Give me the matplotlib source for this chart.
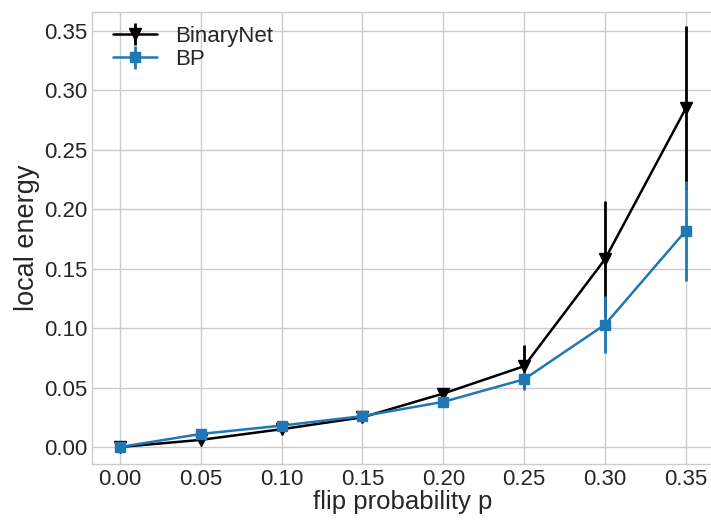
import matplotlib
matplotlib.use("Agg")
import matplotlib.pyplot as plt
import numpy as np

p = [0.00, 0.05, 0.10, 0.15, 0.20, 0.25, 0.30, 0.35]
binarynet = [0.0, 0.006, 0.015, 0.025, 0.045, 0.068, 0.158, 0.285]
binarynet_err = [0.0, 0.001, 0.002, 0.002, 0.004, 0.018, 0.049, 0.069]
bp = [0.0, 0.011, 0.018, 0.026, 0.038, 0.057, 0.103, 0.182]
bp_err = [0.0, 0.001, 0.001, 0.002, 0.003, 0.009, 0.024, 0.042]

plt.style.use("seaborn-v0_8-whitegrid")
plt.rcParams["font.family"] = ["Liberation Sans", "DejaVu Sans"]

fig = plt.figure(figsize=(7.11, 5.23), dpi=100)
ax = fig.add_axes([0.1294, 0.1128, 0.875, 0.8642])

ax.errorbar(p, binarynet, yerr=binarynet_err, color="black", marker="v",
            markersize=8, linewidth=1.8, elinewidth=2, label="BinaryNet")
ax.errorbar(p, bp, yerr=bp_err, color="#1f77b4", marker="s",
            markersize=7, linewidth=1.8, elinewidth=2, label="BP")

ax.set_xlim(-0.0173, 0.3675)
ax.set_ylim(-0.0143, 0.366)
ax.set_xticks(np.arange(0, 0.36, 0.05))
ax.set_yticks(np.arange(0, 0.36, 0.05))
ax.tick_params(labelsize=16, colors="#262626")
ax.set_xlabel("flip probability p", fontsize=18.5, color="#262626", labelpad=0)
ax.set_ylabel("local energy", fontsize=19.5, color="#262626", labelpad=3)
for s in ax.spines.values():
    s.set_visible(True)
    s.set_color("#cccccc")
ax.grid(color="#cccccc", linewidth=1)
ax.legend(loc="upper left", bbox_to_anchor=(0.01, 1.002), fontsize=16,
          frameon=False, labelspacing=0.12, borderaxespad=0.25)

fig.savefig("out.png", dpi=100)
